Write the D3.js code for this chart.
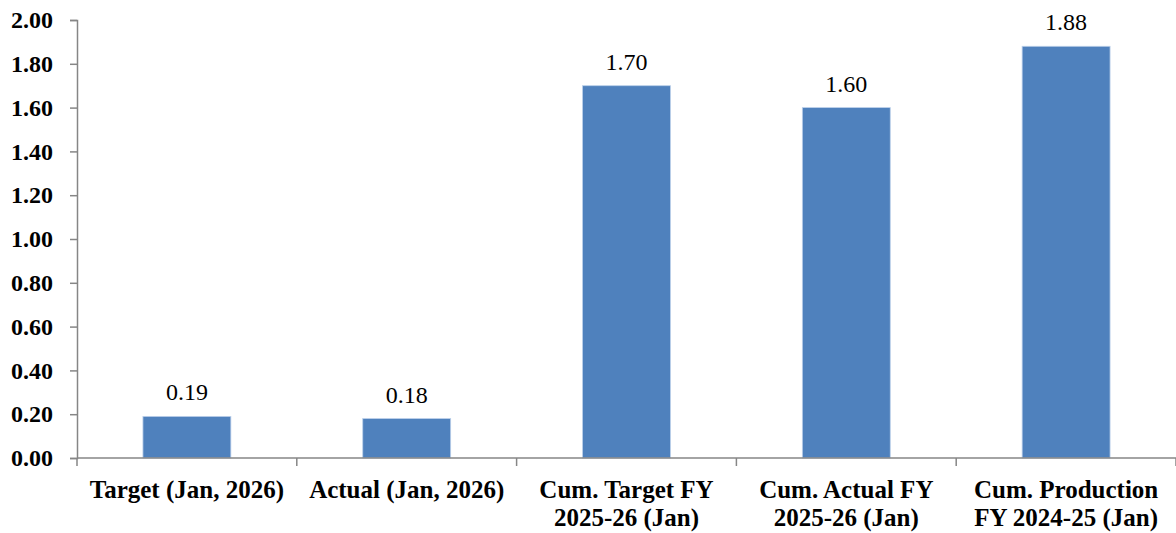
<!DOCTYPE html>
<html>
<head>
<meta charset="utf-8">
<script src="https://cdn.jsdelivr.net/npm/d3@7"></script>
<style>
  body { margin: 0; background: #fff; }
  .axis path, .axis line { stroke: #868686; stroke-width: 1.5; }
</style>
</head>
<body>
<div id="chart-area"></div>
<script>
// Data
var categories = [
	["Target (Jan, 2026)"],
	["Actual (Jan, 2026)"],
	["Cum. Target FY", "2025-26 (Jan)"],
	["Cum. Actual FY", "2025-26 (Jan)"],
	["Cum. Production", "FY 2024-25 (Jan)"]
];
var values = [0.19, 0.18, 1.70, 1.60, 1.88];
var yTicks = [0, 0.2, 0.4, 0.6, 0.8, 1.0, 1.2, 1.4, 1.6, 1.8, 2.0];

var FONT = "'Liberation Serif', 'Times New Roman', serif";

// SVG drawing area
var margin = {top: 20, right: 0, bottom: 75, left: 77};
var width = 1176 - margin.left - margin.right;
var height = 533 - margin.top - margin.bottom;

var svg = d3.select("#chart-area").append("svg")
		.attr("width", width + margin.left + margin.right)
		.attr("height", height + margin.top + margin.bottom)
	.append("g")
		.attr("transform", "translate(" + margin.left + "," + margin.top + ")");

// Scales
var x = d3.scaleBand()
	.domain(d3.range(categories.length))
	.range([0, width])
	.padding(0);

var y = d3.scaleLinear()
	.domain([0, 2])
	.range([height, 0]);

var barW = x.bandwidth() * 0.4;

// Bars
svg.selectAll(".bar")
	.data(values)
	.enter().append("rect")
	.attr("class", "bar")
	.attr("x", function(d, i){ return x(i) + (x.bandwidth() - barW) / 2; })
	.attr("y", function(d){ return y(d); })
	.attr("width", barW)
	.attr("height", function(d){ return height - y(d); })
	.attr("fill", "#4F81BD")
	.attr("stroke", "#bcd0ea")
	.attr("stroke-width", 0.8);

// Value labels
svg.selectAll(".label")
	.data(values)
	.enter().append("text")
	.attr("class", "label")
	.attr("x", function(d, i){ return x(i) + x.bandwidth() / 2; })
	.attr("y", function(d){ return y(d) - 16; })
	.attr("text-anchor", "middle")
	.style("font-family", FONT)
	.style("font-size", "24px")
	.style("fill", "#000")
	.text(function(d){ return d.toFixed(2); });

// Y axis
var yAxisGroup = svg.append("g")
	.attr("class", "y axis")
	.call(d3.axisLeft(y).tickValues(yTicks).tickSize(7).tickSizeOuter(7).tickPadding(17)
		.tickFormat(d3.format(".2f")));

yAxisGroup.selectAll("text")
	.style("font-family", FONT)
	.style("font-size", "24px")
	.style("font-weight", "bold")
	.style("fill", "#000");

// X axis: ticks sit between categories
var edges = d3.range(categories.length + 1).map(function(i){ return i * x.step(); });
var xAxisGroup = svg.append("g")
	.attr("class", "x axis")
	.attr("transform", "translate(0," + height + ")");

xAxisGroup.append("path")
	.attr("d", "M0,0H" + width)
	.attr("fill", "none");

xAxisGroup.selectAll(".edge")
	.data(edges)
	.enter().append("line")
	.attr("x1", function(d){ return d; })
	.attr("x2", function(d){ return d; })
	.attr("y1", 0)
	.attr("y2", 8);

var catText = xAxisGroup.selectAll(".cat")
	.data(categories)
	.enter().append("text")
	.attr("class", "cat")
	.attr("text-anchor", "middle")
	.attr("x", function(d, i){ return x(i) + x.bandwidth() / 2; })
	.attr("y", 40)
	.style("font-family", FONT)
	.style("font-size", "25px")
	.style("font-weight", "bold")
	.style("fill", "#000");

catText.selectAll("tspan")
	.data(function(d){ return d; })
	.enter().append("tspan")
	.attr("x", function(){ return d3.select(this.parentNode).attr("x"); })
	.attr("dy", function(d, j){ return j === 0 ? 0 : 28; })
	.text(function(d){ return d; });
</script>
</body>
</html>
